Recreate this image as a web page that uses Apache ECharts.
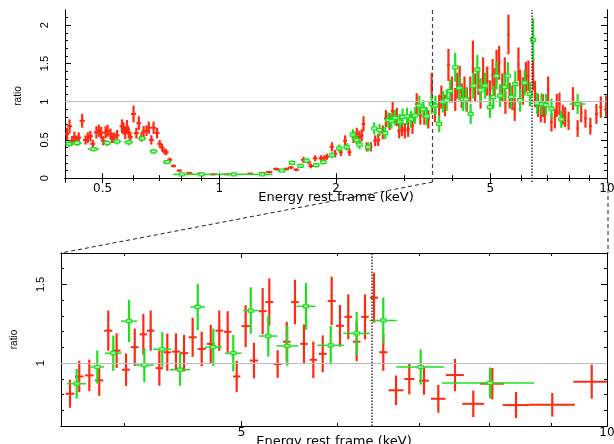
<!DOCTYPE html>
<html>
<head>
<meta charset="utf-8">
<script src="https://cdn.jsdelivr.net/npm/echarts@6/dist/echarts.min.js"></script>
<style>
  html, body { margin: 0; padding: 0; background: #fff; }
  #chart { width: 614px; height: 444px; }
</style>
</head>
<body>
<div id="chart"></div>
<script>
// rows: [energy (keV), energy half-width, ratio, ratio error]
const topRed = [
  [0.405,0.006,0.58,0.08],[0.411,0.006,0.68,0.09],[0.417,0.006,0.49,0.06],[0.423,0.006,0.54,0.07],
  [0.428,0.006,0.50,0.06],[0.434,0.006,0.53,0.07],[0.443,0.007,0.75,0.09],[0.452,0.007,0.50,0.06],
  [0.458,0.007,0.53,0.07],[0.465,0.007,0.55,0.07],[0.472,0.007,0.45,0.05],[0.482,0.007,0.60,0.08],
  [0.489,0.007,0.62,0.08],[0.496,0.007,0.59,0.08],[0.502,0.007,0.49,0.06],[0.509,0.007,0.60,0.08],
  [0.515,0.007,0.62,0.08],[0.524,0.008,0.58,0.07],[0.529,0.008,0.52,0.06],[0.536,0.008,0.53,0.07],
  [0.545,0.008,0.56,0.07],[0.561,0.008,0.68,0.09],[0.566,0.008,0.65,0.08],[0.572,0.008,0.59,0.08],
  [0.578,0.008,0.67,0.09],[0.584,0.008,0.59,0.07],[0.590,0.008,0.54,0.07],[0.601,0.009,0.84,0.11],
  [0.611,0.009,0.59,0.07],[0.620,0.009,0.72,0.09],[0.630,0.009,0.54,0.06],[0.638,0.009,0.61,0.07],
  [0.649,0.009,0.62,0.07],[0.658,0.009,0.66,0.08],[0.668,0.010,0.50,0.06],[0.677,0.010,0.66,0.08],
  [0.691,0.010,0.59,0.07],[0.702,0.010,0.45,0.05],[0.712,0.010,0.40,0.05],[0.722,0.010,0.35,0.04],
  [0.730,0.010,0.34,0.04],[0.745,0.011,0.24,0.03],[0.762,0.011,0.16,0.02],[0.789,0.012,0.10,0.015],
  [0.837,0.015,0.07,0.01],[0.893,0.015,0.06,0.01],[0.965,0.020,0.05,0.01],[1.048,0.020,0.05,0.01],
  [1.202,0.020,0.06,0.01],[1.290,0.025,0.07,0.01],[1.345,0.025,0.08,0.015],[1.403,0.025,0.12,0.02],
  [1.488,0.025,0.12,0.02],[1.530,0.025,0.14,0.02],[1.580,0.025,0.11,0.02],[1.649,0.025,0.24,0.04],
  [1.699,0.025,0.21,0.03],[1.723,0.025,0.16,0.03],[1.767,0.025,0.26,0.04],[1.829,0.025,0.26,0.04],
  [1.865,0.025,0.26,0.04],[1.895,0.025,0.28,0.04],[1.951,0.025,0.41,0.06],[1.990,0.025,0.32,0.05],
  [2.058,0.025,0.34,0.05],[2.111,0.025,0.49,0.07],[2.166,0.025,0.34,0.05],[2.219,0.025,0.54,0.08],
  [2.263,0.025,0.58,0.08],[2.298,0.025,0.54,0.08],[2.330,0.025,0.56,0.08],[2.355,0.025,0.71,0.10],
  [2.400,0.025,0.41,0.06],[2.460,0.025,0.41,0.06],[2.524,0.030,0.49,0.07],[2.570,0.030,0.50,0.08],
  [2.640,0.030,0.60,0.09],[2.690,0.030,0.78,0.11],[2.750,0.030,0.74,0.11],[2.800,0.030,0.88,0.12],
  [2.870,0.030,0.80,0.12],[2.910,0.030,0.62,0.10],[2.958,0.030,0.65,0.10],[3.010,0.030,0.62,0.10],
  [3.070,0.030,0.64,0.10],[3.150,0.030,0.69,0.11],[3.230,0.030,0.97,0.14],[3.300,0.030,0.82,0.12],
  [3.380,0.030,0.82,0.12],[3.460,0.030,0.77,0.12],[3.530,0.030,1.21,0.17],[3.600,0.030,0.86,0.13],
  [3.690,0.030,0.95,0.14],[3.740,0.030,1.06,0.15],[3.820,0.030,0.95,0.14],[3.900,0.030,1.48,0.21],
  [3.980,0.030,1.16,0.17],[4.060,0.030,1.03,0.15],[4.110,0.030,1.21,0.17],[4.170,0.030,1.29,0.18],
  [4.220,0.030,1.08,0.16],[4.290,0.030,1.16,0.17],[4.350,0.030,1.03,0.16],[4.440,0.030,1.16,0.17],
  [4.510,0.030,1.58,0.22],[4.570,0.030,1.19,0.18],[4.660,0.030,1.27,0.18],[4.720,0.030,1.07,0.16],
  [4.790,0.030,1.38,0.20],[4.910,0.030,1.27,0.19],[4.990,0.030,1.11,0.17],[5.070,0.035,1.36,0.20],
  [5.130,0.035,1.25,0.19],[5.190,0.035,1.47,0.21],[5.270,0.035,1.51,0.22],[5.370,0.035,1.19,0.18],
  [5.450,0.035,1.38,0.20],[5.470,0.035,0.99,0.15],[5.570,0.035,1.88,0.26],[5.610,0.035,1.08,0.17],
  [5.700,0.035,1.05,0.16],[5.780,0.035,0.90,0.15],[5.910,0.035,1.49,0.22],[5.970,0.035,1.23,0.19],
  [6.070,0.040,1.14,0.18],[6.180,0.040,1.32,0.20],[6.270,0.040,1.34,0.20],[6.450,0.040,1.36,0.21],
  [6.520,0.040,1.10,0.17],[6.640,0.040,0.95,0.15],[6.750,0.040,0.87,0.14],[6.830,0.040,0.95,0.15],
  [6.910,0.040,0.86,0.14],[7.050,0.050,1.16,0.17],[7.190,0.050,0.73,0.12],[7.340,0.050,0.78,0.13],
  [7.420,0.050,0.95,0.15],[7.540,0.050,0.97,0.15],[7.690,0.050,0.83,0.13],[7.800,0.050,0.80,0.13],
  [7.960,0.050,0.75,0.12],[8.170,0.060,1.04,0.15],[8.400,0.060,0.65,0.11],[8.580,0.060,0.86,0.13],
  [8.800,0.070,0.78,0.12],[9.060,0.080,0.68,0.11],[9.390,0.080,0.84,0.13],[9.640,0.090,0.93,0.14],
  [9.950,0.090,0.94,0.14]
];
const topGreen = [
  [0.410,0.012,0.45,0.04],[0.430,0.012,0.46,0.04],[0.474,0.016,0.38,0.03],[0.514,0.012,0.46,0.04],
  [0.545,0.014,0.48,0.04],[0.584,0.016,0.47,0.04],[0.632,0.016,0.52,0.04],[0.677,0.016,0.35,0.03],
  [0.733,0.018,0.21,0.02],[0.800,0.040,0.05,0.01],[0.900,0.060,0.05,0.01],[1.090,0.120,0.05,0.01],
  [1.290,0.080,0.05,0.01],[1.450,0.040,0.10,0.015],[1.540,0.030,0.20,0.03],[1.620,0.030,0.16,0.02],
  [1.680,0.030,0.23,0.03],[1.778,0.035,0.17,0.03],[1.856,0.035,0.21,0.03],[1.951,0.035,0.30,0.04],
  [2.040,0.035,0.39,0.05],[2.130,0.035,0.41,0.05],[2.210,0.035,0.57,0.07],[2.260,0.035,0.50,0.06],
  [2.300,0.035,0.44,0.06],[2.420,0.040,0.41,0.06],[2.510,0.040,0.65,0.08],[2.590,0.040,0.63,0.08],
  [2.680,0.040,0.59,0.08],[2.730,0.040,0.76,0.10],[2.780,0.040,0.75,0.10],[2.840,0.040,0.79,0.10],
  [2.920,0.040,0.74,0.10],[2.970,0.040,0.80,0.11],[3.050,0.040,0.81,0.11],[3.120,0.040,0.77,0.11],
  [3.200,0.040,0.82,0.11],[3.280,0.045,0.95,0.13],[3.360,0.045,0.90,0.12],[3.430,0.045,0.81,0.12],
  [3.530,0.045,0.97,0.13],[3.610,0.045,0.95,0.13],[3.690,0.045,0.71,0.11],[3.780,0.045,1.00,0.14],
  [3.860,0.045,1.02,0.14],[3.940,0.050,1.14,0.15],[4.060,0.050,1.45,0.19],[4.160,0.050,1.18,0.16],
  [4.250,0.050,1.03,0.15],[4.330,0.050,1.03,0.15],[4.450,0.050,0.84,0.13],[4.520,0.050,1.21,0.17],
  [4.630,0.050,1.42,0.19],[4.720,0.050,1.15,0.16],[4.850,0.060,1.21,0.17],[4.990,0.060,0.93,0.14],
  [5.090,0.060,1.06,0.15],[5.190,0.060,1.34,0.18],[5.300,0.060,1.08,0.15],[5.450,0.060,1.19,0.17],
  [5.550,0.060,1.34,0.18],[5.660,0.060,1.06,0.15],[5.800,0.070,1.23,0.17],[5.970,0.070,1.02,0.15],
  [6.130,0.070,1.25,0.17],[6.330,0.070,1.10,0.16],[6.450,0.070,1.81,0.28],[6.600,0.070,0.98,0.14],
  [6.780,0.080,0.97,0.14],[6.960,0.080,0.96,0.14],[7.190,0.100,0.91,0.13],[7.620,0.150,0.77,0.11],
  [8.400,0.400,0.97,0.13]
];
const zoomRed = [
  [3.611,0.030,0.805,0.089],[3.675,0.030,0.915,0.100],[3.746,0.030,0.922,0.100],[3.817,0.030,0.890,0.098],
  [3.883,0.030,1.206,0.128],[3.945,0.030,1.079,0.110],[4.016,0.030,0.958,0.103],[4.083,0.030,1.101,0.119],
  [4.150,0.030,1.183,0.129],[4.208,0.030,1.206,0.128],[4.278,0.030,0.968,0.112],[4.343,0.030,1.069,0.118],
  [4.415,0.035,1.073,0.116],[4.483,0.035,1.063,0.116],[4.557,0.035,1.164,0.124],[4.636,0.035,1.090,0.110],
  [4.716,0.035,1.122,0.121],[4.793,0.035,1.206,0.128],[4.870,0.035,1.199,0.131],[4.954,0.035,0.915,0.100],
  [5.039,0.040,1.235,0.133],[5.119,0.040,1.016,0.113],[5.204,0.040,1.330,0.147],[5.270,0.040,1.388,0.150],
  [5.354,0.040,0.994,0.088],[5.447,0.040,1.136,0.126],[5.533,0.040,1.388,0.142],[5.628,0.040,1.122,0.124],
  [5.729,0.040,1.021,0.116],[5.832,0.045,1.059,0.117],[5.932,0.045,1.395,0.154],[6.026,0.045,1.237,0.132],
  [6.122,0.045,1.294,0.143],[6.220,0.045,1.136,0.124],[6.319,0.045,1.294,0.143],[6.428,0.050,1.416,0.159],
  [6.542,0.050,1.069,0.118],[6.702,0.095,0.827,0.094],[6.873,0.065,0.899,0.098],[7.067,0.067,0.888,0.089],
  [7.262,0.100,0.773,0.089],[7.495,0.128,0.924,0.103],[7.760,0.162,0.741,0.084],[8.045,0.183,0.869,0.100],
  [8.415,0.208,0.733,0.083],[9.014,0.393,0.735,0.075],[9.714,0.332,0.882,0.108]
];
const zoomGreen = [
  [3.657,0.066,0.869,0.095],[3.803,0.048,0.975,0.105],[3.920,0.062,1.063,0.112],[4.039,0.061,1.267,0.134],
  [4.158,0.075,0.987,0.108],[4.302,0.073,1.088,0.110],[4.449,0.087,0.958,0.102],[4.601,0.065,1.357,0.147],
  [4.739,0.078,1.101,0.119],[4.922,0.078,1.063,0.116],[5.088,0.072,1.334,0.148],[5.260,0.092,1.172,0.131],
  [5.453,0.112,1.109,0.126],[5.650,0.102,1.361,0.149],[5.921,0.150,1.113,0.123],[6.220,0.157,1.189,0.137],
  [6.542,0.170,1.271,0.146],[7.023,0.316,0.975,0.112],[8.010,0.700,0.874,0.098]
];

// axis ranges and ticks
const topEnergyRange = [0.4, 10];
const topRatioRange = [-0.05, 2.2];
const zoomEnergyRange = [3.55, 10];
const zoomRatioRange = [0.6, 1.7];
const topEnergyMajor = [0.5, 1, 2, 5, 10];
const topEnergyMinor = [0.4, 0.6, 0.7, 0.8, 0.9, 3, 4, 6, 7, 8, 9];
const zoomEnergyMajor = [5, 10];
const zoomEnergyMinor = [4, 6, 7, 8, 9];
const topRatioMajor = [0, 0.5, 1, 1.5, 2];
const topRatioMinor = [0.1, 0.2, 0.3, 0.4, 0.6, 0.7, 0.8, 0.9, 1.1, 1.2, 1.3, 1.4, 1.6, 1.7, 1.8, 1.9, 2.1];
const zoomRatioMajor = [1, 1.5];
const zoomRatioMinor = [0.7, 0.8, 0.9, 1.1, 1.2, 1.3, 1.4, 1.6];
const ironLine = 6.4;

const RED = '#ff2a12';
const GREEN = '#1ee01e';
const tickFont = {fontFamily: 'DejaVu Sans', fontSize: 12, color: '#000'};

function energyAxes(grid, range, major, minor) {
	const base = {
		gridIndex: grid, type: 'log', logBase: 10, min: range[0], max: range[1],
		splitLine: {show: false},
		axisLine: {show: true, lineStyle: {color: '#000', width: 1}},
		axisLabel: {show: false}
	};
	const tick = (vals, len) => ({show: true, inside: true, length: len, customValues: vals, lineStyle: {color: '#000'}});
	return [
		{
			...base, position: 'bottom', axisTick: tick(major, 5),
			axisLabel: {show: true, customValues: major, margin: 1, ...tickFont, formatter: (v) => String(v)},
			name: 'Energy rest frame (keV)', nameLocation: 'middle', nameGap: 9, nameMoveOverlap: false,
			nameTextStyle: {fontFamily: 'DejaVu Sans', fontSize: 13, color: '#000'}
		},
		{...base, position: 'bottom', axisTick: tick(minor, 3)},
		{...base, position: 'top', axisTick: tick(major, 5)},
		{...base, position: 'top', axisTick: tick(minor, 3)}
	];
}

function ratioAxes(grid, range, major, minor, gap) {
	const base = {
		gridIndex: grid, type: 'value', min: range[0], max: range[1],
		splitLine: {show: false},
		axisLine: {show: true, lineStyle: {color: '#000', width: 1}},
		axisLabel: {show: false}
	};
	const tick = (vals, len) => ({show: true, inside: true, length: len, customValues: vals, lineStyle: {color: '#000'}});
	return [
		{
			...base, position: 'left', axisTick: tick(major, 6),
			axisLabel: {show: true, customValues: major, rotate: 90, margin: 15,
				fontFamily: 'Liberation Sans', fontSize: 11, color: '#000'},
			name: 'ratio', nameLocation: 'middle', nameGap: gap, nameMoveOverlap: false,
			nameTextStyle: {fontFamily: 'Liberation Sans', fontSize: 10, color: '#000'}
		},
		{...base, position: 'left', axisTick: tick(minor, 3)},
		{...base, position: 'right', axisTick: tick(major, 6)},
		{...base, position: 'right', axisTick: tick(minor, 3)}
	];
}

// error cross: vertical ratio bar + horizontal energy bar (green ones get a small box)
function errorCross(color, boxed) {
	return function (params, api) {
		const e = api.value(0), de = api.value(1), r = api.value(2), dr = api.value(3);
		const c = api.coord([e, r]);
		const lo = api.coord([e - de, r]);
		const hi = api.coord([e + de, r]);
		const bot = api.coord([e, r - dr]);
		const top = api.coord([e, r + dr]);
		const kids = [
			{type: 'line', shape: {x1: c[0], y1: bot[1], x2: c[0], y2: top[1]}, style: {stroke: color, lineWidth: 2.2}},
			{type: 'line', shape: {x1: lo[0], y1: c[1], x2: hi[0], y2: c[1]}, style: {stroke: color, lineWidth: boxed ? 1.5 : 2}}
		];
		if (boxed) {
			kids.push({type: 'rect', shape: {x: c[0] - 2.5, y: c[1] - 1.5, width: 5, height: 3},
				style: {fill: '#bff7bf', stroke: color, lineWidth: 1.2}});
		}
		return {type: 'group', children: kids};
	};
}

function points(name, data, axisIdx, color, boxed) {
	return {
		name, type: 'custom', xAxisIndex: axisIdx, yAxisIndex: axisIdx, clip: true, z: 3,
		encode: {x: 0, y: 2}, data, renderItem: errorCross(color, boxed), silent: true
	};
}

function guides(axisIdx, withZoomEdge) {
	const vertical = [{xAxis: ironLine, lineStyle: {type: [1.5, 1.5], color: '#333', width: 1.5}}];
	if (withZoomEdge) vertical.unshift({xAxis: zoomEnergyRange[0], lineStyle: {type: [4, 3], color: '#444', width: 1.2}});
	return [
		{type: 'line', xAxisIndex: axisIdx, yAxisIndex: axisIdx, data: [], z: 1, silent: true,
			markLine: {symbol: 'none', silent: true, animation: false, label: {show: false},
				lineStyle: {color: '#bdbdbd', width: 1, type: 'solid'}, data: [{yAxis: 1}]}},
		{type: 'line', xAxisIndex: axisIdx, yAxisIndex: axisIdx, data: [], z: 5, silent: true,
			markLine: {symbol: 'none', silent: true, animation: false, label: {show: false}, data: vertical}}
	];
}

const chart = echarts.init(document.getElementById('chart'));

chart.setOption({
	animation: false,
	backgroundColor: '#fff',
	grid: [
		{left: 65, top: 10, width: 542, height: 172, outerBoundsMode: 'none'},
		{left: 61, top: 253, width: 546, height: 173, outerBoundsMode: 'none'}
	],
	xAxis: [
		...energyAxes(0, topEnergyRange, topEnergyMajor, topEnergyMinor),
		...energyAxes(1, zoomEnergyRange, zoomEnergyMajor, zoomEnergyMinor)
	],
	yAxis: [
		...ratioAxes(0, topRatioRange, topRatioMajor, topRatioMinor, 42),
		...ratioAxes(1, zoomRatioRange, zoomRatioMajor, zoomRatioMinor, 42)
	],
	series: [
		...guides(0, true),
		...guides(4, false),
		points('top red', topRed, 0, RED, false),
		points('top green', topGreen, 0, GREEN, true),
		points('zoom red', zoomRed, 4, RED, false),
		points('zoom green', zoomGreen, 4, GREEN, true)
	]
});

// dashed connectors between the zoom window in the top panel and the lower panel
const a = chart.convertToPixel({xAxisIndex: 0, yAxisIndex: 0}, [zoomEnergyRange[0], topRatioRange[0]]);
const b = chart.convertToPixel({xAxisIndex: 0, yAxisIndex: 0}, [zoomEnergyRange[1], topRatioRange[0]]);
const c = chart.convertToPixel({xAxisIndex: 4, yAxisIndex: 4}, [zoomEnergyRange[0], zoomRatioRange[1]]);
const d = chart.convertToPixel({xAxisIndex: 4, yAxisIndex: 4}, [zoomEnergyRange[1], zoomRatioRange[1]]);
const dash = {stroke: '#222', lineWidth: 1, lineDash: [4, 3]};
chart.setOption({
	graphic: [
		{type: 'line', silent: true, shape: {x1: a[0], y1: a[1], x2: c[0], y2: c[1]}, style: dash},
		{type: 'line', silent: true, shape: {x1: b[0] + 1, y1: b[1], x2: d[0] + 1, y2: d[1]}, style: dash}
	]
});
</script>
</body>
</html>
